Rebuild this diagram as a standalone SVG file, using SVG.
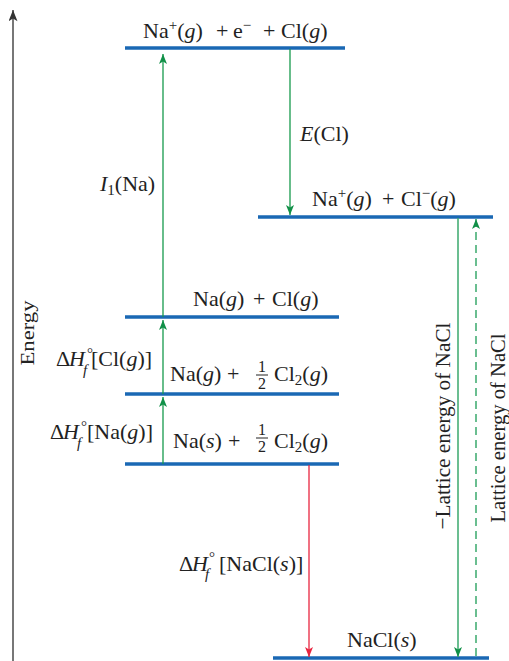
<svg xmlns="http://www.w3.org/2000/svg" width="509" height="661" viewBox="0 0 509 661">
<style>
text{font-family:"Liberation Serif","Times New Roman",serif;font-size:22px;fill:#222}
.i{font-style:italic}
.s{font-size:15px}
.fr{font-size:16px;text-anchor:middle}
.lvl{stroke:#1a68b4;stroke-width:3.6;fill:none}
.g{stroke:#169a4c;stroke-width:1.3;fill:none}
.gl{stroke:#3aa96c;stroke-width:1.5;fill:none}
.r{stroke:#e8253f;stroke-width:1.3;fill:none}
.bar{stroke:#222;stroke-width:1}
</style>
<defs>
<marker id="ag" viewBox="0 0 10 8" refX="10" refY="4" markerWidth="10" markerHeight="8" markerUnits="userSpaceOnUse" orient="auto"><path d="M0,0 L10,4 L0,8 L2.5,4 Z" fill="#119048"/></marker>
<marker id="ar" viewBox="0 0 10 8" refX="10" refY="4" markerWidth="10" markerHeight="8" markerUnits="userSpaceOnUse" orient="auto"><path d="M0,0 L10,4 L0,8 L2.5,4 Z" fill="#e8253f"/></marker>
<marker id="ak" viewBox="0 0 10 8" refX="10" refY="4" markerWidth="14" markerHeight="9" markerUnits="userSpaceOnUse" orient="auto"><path d="M0,0 L10,4 L0,8 L2.5,4 Z" fill="#333"/></marker>
</defs>

<g id="axis">
<line x1="13" y1="661" x2="13" y2="10" stroke="#555" stroke-width="1.6" marker-end="url(#ak)"/>
<text transform="translate(34,333) rotate(-90)" text-anchor="middle" textLength="65" lengthAdjust="spacingAndGlyphs" style="font-size:18px">Energy</text>
</g>

<g id="level-ions-electron">
<line class="lvl" x1="125" y1="48" x2="345" y2="48"/>
<text y="38"><tspan x="143">Na</tspan><tspan class="s" dy="-8">+</tspan><tspan dy="8">(</tspan><tspan class="i">g</tspan><tspan>)</tspan><tspan x="216">+</tspan><tspan x="233">e</tspan><tspan class="s" dy="-8">−</tspan><tspan x="263" dy="8">+</tspan><tspan x="281">Cl(</tspan><tspan class="i">g</tspan><tspan>)</tspan></text>
</g>

<g id="level-ions">
<line class="lvl" x1="258" y1="217" x2="493" y2="217"/>
<text y="206"><tspan x="312">Na</tspan><tspan class="s" dy="-8">+</tspan><tspan dy="8">(</tspan><tspan class="i">g</tspan><tspan>)</tspan><tspan x="382">+</tspan><tspan x="401">Cl</tspan><tspan class="s" dy="-8">−</tspan><tspan dy="8">(</tspan><tspan class="i">g</tspan><tspan>)</tspan></text>
</g>

<g id="level-atoms">
<line class="lvl" x1="125" y1="317" x2="339" y2="317"/>
<text y="306"><tspan x="193">Na(</tspan><tspan class="i">g</tspan><tspan>)</tspan><tspan x="253">+</tspan><tspan x="272">Cl(</tspan><tspan class="i">g</tspan><tspan>)</tspan></text>
</g>

<g id="level-na-gas">
<line class="lvl" x1="125" y1="394" x2="339" y2="394"/>
<text y="381"><tspan x="170">Na(</tspan><tspan class="i">g</tspan><tspan>)</tspan><tspan x="227">+</tspan><tspan x="274">Cl</tspan><tspan class="s" dy="4">2</tspan><tspan dy="-4">(</tspan><tspan class="i">g</tspan><tspan>)</tspan></text>
<text class="fr" x="262" y="372">1</text>
<line class="bar" x1="256" y1="375" x2="268" y2="375"/>
<text class="fr" x="262" y="389">2</text>
</g>

<g id="level-elements">
<line class="lvl" x1="125" y1="464" x2="339" y2="464"/>
<text y="448"><tspan x="173">Na(</tspan><tspan class="i">s</tspan><tspan>)</tspan><tspan x="228">+</tspan><tspan x="274">Cl</tspan><tspan class="s" dy="4">2</tspan><tspan dy="-4">(</tspan><tspan class="i">g</tspan><tspan>)</tspan></text>
<text class="fr" x="262" y="435">1</text>
<line class="bar" x1="256" y1="438" x2="268" y2="438"/>
<text class="fr" x="262" y="452">2</text>
</g>

<g id="level-nacl">
<line class="lvl" x1="273" y1="658" x2="489" y2="658"/>
<text x="347" y="647">NaCl(<tspan class="i">s</tspan>)</text>
</g>

<g id="connectors">
<line class="g" x1="163" y1="464" x2="163" y2="397" marker-end="url(#ag)"/>
<line class="g" x1="163" y1="394" x2="163" y2="320" marker-end="url(#ag)"/>
<line class="g" x1="163" y1="317" x2="163" y2="54" marker-end="url(#ag)"/>
<line class="g" x1="290" y1="49" x2="290" y2="215" marker-end="url(#ag)"/>
<line class="r" x1="309" y1="465" x2="309" y2="657" marker-end="url(#ar)"/>
<line class="gl" x1="458" y1="218" x2="458" y2="657" marker-end="url(#ag)"/>
<line class="gl" x1="476" y1="656" x2="476" y2="219" stroke-dasharray="8,5" marker-end="url(#ag)"/>
</g>

<g id="labels">
<text y="191"><tspan x="100" class="i">I</tspan><tspan class="s" dy="4">1</tspan><tspan dy="-4">(Na)</tspan></text>
<text y="141"><tspan x="300" class="i">E</tspan><tspan>(Cl)</tspan></text>
<text x="56" y="366">Δ</text>
<text class="i" x="69" y="366">H</text>
<text class="s" x="87" y="358">°</text>
<text class="s i" x="83" y="375">f</text>
<text y="366"><tspan x="91">[Cl(</tspan><tspan class="i">g</tspan><tspan>)]</tspan></text>
<text x="50" y="439">Δ</text>
<text class="i" x="63" y="439">H</text>
<text class="s" x="81" y="431">°</text>
<text class="s i" x="77" y="448">f</text>
<text y="439"><tspan x="87">[Na(</tspan><tspan class="i">g</tspan><tspan>)]</tspan></text>
<text x="179" y="571">Δ</text>
<text class="i" x="192" y="571">H</text>
<text class="s" x="209" y="562">°</text>
<text class="s i" x="205" y="579">f</text>
<text y="571"><tspan x="219">[NaCl(</tspan><tspan class="i">s</tspan><tspan>)]</tspan></text>
<text transform="translate(450,426) rotate(-90)" text-anchor="middle" textLength="207" lengthAdjust="spacingAndGlyphs">−Lattice energy of NaCl</text>
<text transform="translate(505,428) rotate(-90)" text-anchor="middle" textLength="189" lengthAdjust="spacingAndGlyphs">Lattice energy of NaCl</text>
</g>
</svg>
